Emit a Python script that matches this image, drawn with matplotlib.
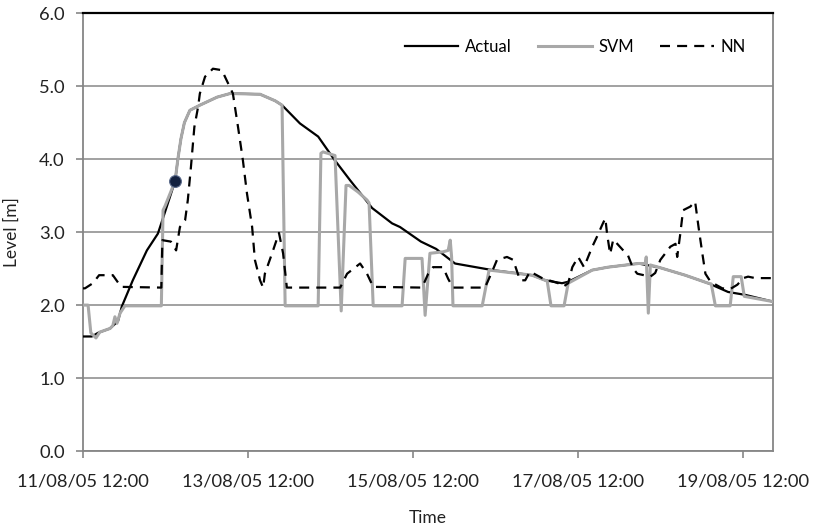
import numpy as np
import pandas as pd
import matplotlib
matplotlib.use("Agg")
import matplotlib.pyplot as plt
import matplotlib.dates as mdates

plt.rcParams["font.family"] = ["Lato", "DejaVu Sans"]

START = pd.Timestamp("2005-08-11 12:00")

# hours since 11/08/05 12:00 and level [m]
actual_h = [0.0, 2.6, 4.4, 7.9, 10.2, 11.3, 14.5, 18.6, 21.8, 23.9, 26.8, 27.6, 28.5,
            29.5, 31.1, 34.0, 39.0, 42.8, 51.5, 55.9, 57.9, 63.1, 68.4, 73.0, 77.7,
            84.1, 89.9, 92.2, 98.3, 102.7, 108.2, 119.0, 130.6, 134.4, 139.3, 141.1,
            148.1, 152.7, 161.5, 167.3, 175.1, 181.8, 187.6, 192.6, 200.4]
actual_lv = [1.57, 1.57, 1.62, 1.68, 1.78, 1.98, 2.34, 2.75, 2.98, 3.28, 3.70, 4.00, 4.28,
             4.50, 4.67, 4.74, 4.85, 4.90, 4.89, 4.80, 4.74, 4.49, 4.31, 4.00, 3.71,
             3.33, 3.12, 3.07, 2.87, 2.77, 2.57, 2.48, 2.41, 2.34, 2.30, 2.32,
             2.48, 2.52, 2.57, 2.52, 2.41, 2.30, 2.18, 2.14, 2.05]

svm_h = [0.0, 1.5, 2.3, 3.8, 4.9, 7.9, 8.7, 9.3, 9.9, 10.8, 12.2, 22.8, 23.3, 23.9,
         26.8, 27.6, 28.5, 29.5, 31.1, 34.0, 39.0, 42.8, 51.5, 55.9, 57.9, 58.8,
         68.4, 69.2, 69.8, 73.3, 75.1, 76.5, 77.4, 80.0, 82.6, 83.2, 84.4, 92.8,
         93.7, 98.6, 99.5, 100.9, 104.7, 106.2, 106.8, 107.2, 107.6, 116.1, 118.1,
         130.6, 134.4, 135.0, 136.1, 139.9, 141.1, 148.1, 152.7, 161.5, 163.5, 163.8,
         164.4, 165.0, 167.3, 175.1, 181.8, 182.7, 183.9, 188.2, 189.1, 191.4, 192.3,
         200.4]
svm_lv = [2.00, 2.00, 1.62, 1.55, 1.63, 1.68, 1.72, 1.84, 1.75, 1.89, 1.99, 1.99, 3.30, 3.36,
          3.70, 4.00, 4.28, 4.50, 4.67, 4.74, 4.85, 4.90, 4.89, 4.80, 4.74, 1.99,
          1.99, 4.08, 4.10, 4.05, 1.92, 3.64, 3.64, 3.55, 3.44, 3.40, 1.99, 1.99,
          2.64, 2.64, 1.86, 2.71, 2.73, 2.75, 2.89, 2.66, 1.99, 1.99, 2.48,
          2.41, 2.34, 2.33, 1.99, 1.99, 2.30, 2.48, 2.52, 2.57, 2.57, 2.66,
          1.89, 2.55, 2.52, 2.41, 2.30, 2.29, 1.99, 1.99, 2.39, 2.39, 2.12,
          2.05]

nn_h = [0.0, 0.6, 2.9, 4.7, 8.7, 11.1, 22.8, 23.1, 25.6, 27.1, 28.2, 29.7, 30.5, 31.4,
        32.4, 33.5, 34.0, 35.5, 37.8, 40.4, 42.2, 43.6, 45.1, 46.5, 47.7, 49.2, 50.0,
        51.5, 52.4, 52.9, 55.0, 57.0, 58.2, 59.3, 74.8, 76.8, 80.6, 82.6, 84.4, 98.6,
        100.4, 101.8, 104.7, 106.2, 107.6, 116.9, 118.9, 120.4, 123.3, 125.1, 127.1,
        128.6, 130.0, 133.5, 138.2, 139.6, 141.1, 142.3, 144.0, 145.7, 148.1, 149.5,
        151.0, 151.9, 152.4, 153.3, 154.2, 157.1, 158.5, 160.0, 161.2, 165.0, 166.4,
        167.9, 170.8, 172.3, 172.8, 173.7, 174.5, 176.6, 178.0, 179.0, 180.1, 181.0,
        182.5, 185.9, 188.2, 190.3, 192.0, 193.4, 195.5, 200.4]
nn_lv = [2.23, 2.23, 2.30, 2.41, 2.41, 2.25, 2.24, 2.89, 2.87, 2.75, 3.07, 3.16, 3.44, 3.89,
         4.44, 4.72, 4.90, 5.13, 5.24, 5.22, 5.04, 4.90, 4.44, 3.99, 3.53, 3.07, 2.62,
         2.34, 2.24, 2.43, 2.71, 2.99, 2.71, 2.24, 2.24, 2.43, 2.57, 2.43, 2.25, 2.24,
         2.43, 2.52, 2.52, 2.36, 2.24, 2.24, 2.45, 2.62, 2.66, 2.62, 2.34,
         2.34, 2.46, 2.37, 2.30, 2.25, 2.30, 2.52, 2.66, 2.52, 2.80, 2.94,
         3.10, 3.19, 2.98, 2.70, 2.90, 2.75, 2.68, 2.50, 2.43, 2.39, 2.44,
         2.62, 2.80, 2.84, 2.66, 2.98, 3.30, 3.35, 3.42, 3.07, 2.71, 2.43,
         2.32, 2.23, 2.22, 2.28, 2.37, 2.39, 2.37, 2.37]

marker_h = [26.8]
marker_lv = [3.70]

X_END_H = 200.7


def to_time(hours):
    return START + pd.to_timedelta(np.asarray(hours), unit="h")


fig = plt.figure(figsize=(8.13, 5.30), dpi=100)
ax = fig.add_axes([0.102, 0.149, 0.849, 0.826])

grid_c = "#9a9a9a"
ax.yaxis.grid(True, color=grid_c, linewidth=1.3)
ax.set_axisbelow(True)

ax.plot(to_time(actual_h), actual_lv, color="black", linewidth=1.6, label="Actual", zorder=3)
ax.plot(to_time(svm_h), svm_lv, color="#a8a8a8", linewidth=2.2, label="SVM", zorder=4)
ax.plot(to_time(nn_h), nn_lv, color="black", linewidth=1.6, dashes=(4.5, 3.2),
        label="NN", zorder=5)
ax.plot(to_time(marker_h), marker_lv, linestyle="none", marker="o", markersize=8.5,
        markerfacecolor="#13213f", markeredgecolor="#5a6a8a", markeredgewidth=0.8, zorder=6)

ax.set_ylim(0, 6)
ax.set_yticks(np.arange(0, 6.1, 1.0))
ax.yaxis.set_major_formatter(matplotlib.ticker.FormatStrFormatter("%.1f"))

ax.set_xlim(to_time([0.0])[0], to_time([X_END_H])[0])
ax.set_xticks(to_time([0, 48, 96, 144, 192]))
ax.xaxis.set_major_formatter(mdates.DateFormatter("%d/%m/%y %H:%M"))

for side in ["left", "bottom", "right"]:
    ax.spines[side].set_color("#868686")
    ax.spines[side].set_linewidth(1.3)
ax.spines["top"].set_color("black")
ax.spines["top"].set_linewidth(1.6)

ax.tick_params(axis="both", colors="#868686", width=1.2, length=5, labelcolor="#222222",
               labelsize=13.2)
ax.tick_params(axis="x", pad=11)
ax.tick_params(axis="y", pad=8)

ax.set_xlabel("Time", fontsize=12.5, color="#222222", labelpad=15)
ax.set_ylabel("Level [m]", fontsize=12.5, color="#222222", labelpad=14)

ax.legend(loc="upper right", bbox_to_anchor=(0.982, 0.975), ncol=3, frameon=False,
          fontsize=12, handlelength=3.2, handletextpad=0.4, columnspacing=1.6)

fig.savefig("out.png", dpi=100)
